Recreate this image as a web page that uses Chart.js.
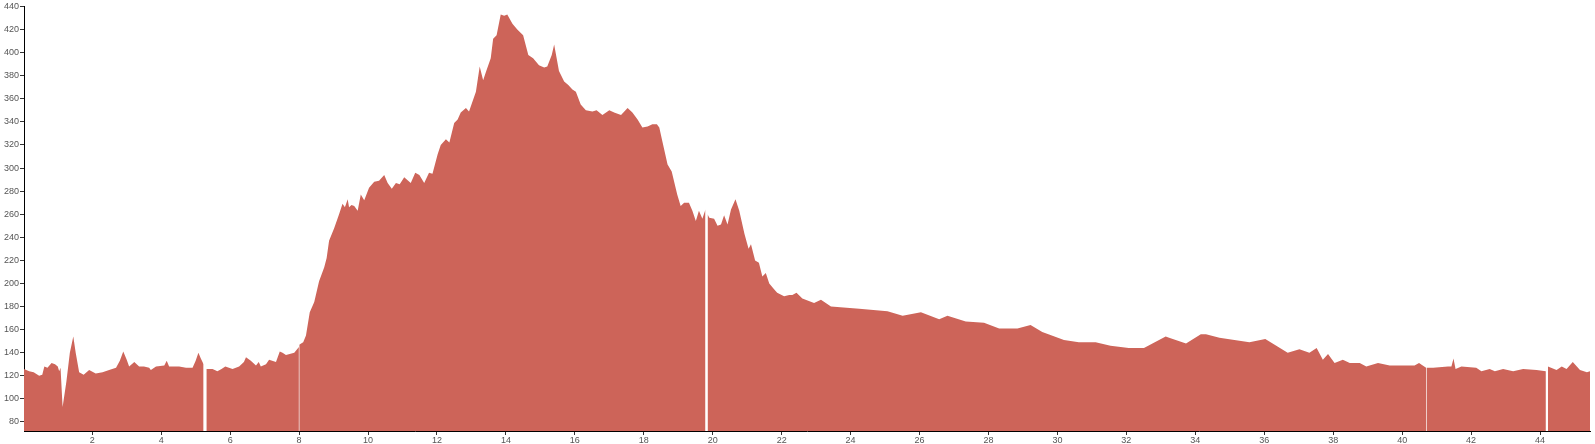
<!DOCTYPE html>
<html>
<head>
<meta charset="utf-8">
<title>Elevation profile</title>
<script src="https://cdn.jsdelivr.net/npm/chart.js@4"></script>
<style>
    html, body { margin: 0; padding: 0; background: #fff; }
    #chart-wrap { position: relative; width: 1595px; height: 444px; }
</style>
</head>
<body>
<div id="chart-wrap"><canvas id="profile-chart"></canvas></div>
<script>
// Distance along the route (km) - null elevation marks a break in the track
const distanceKm = [
    0.02, 0.17, 0.30, 0.46, 0.55, 0.61, 0.70, 0.82, 0.92, 1.00, 1.04, 1.08, 1.14, 1.25, 1.35, 1.45, 1.52, 1.62, 1.75, 1.91,
    2.10, 2.30, 2.49, 2.69, 2.80, 2.90, 3.00, 3.07, 3.22, 3.36, 3.50, 3.65, 3.70, 3.85, 4.09, 4.16, 4.23, 4.52, 4.72, 4.91,
    5.00, 5.08, 5.15, 5.23, 5.27, 5.31, 5.40, 5.49, 5.63, 5.75, 5.86, 6.07, 6.26, 6.40, 6.46, 6.60, 6.75, 6.83, 6.89, 7.04,
    7.13, 7.33, 7.44, 7.52, 7.62, 7.86, 7.995, 8.00, 8.005, 8.06, 8.12, 8.20, 8.31, 8.44, 8.58, 8.73, 8.80, 8.87, 9.02, 9.16,
    9.26, 9.33, 9.41, 9.45, 9.52, 9.60, 9.70, 9.79, 9.89, 10.03, 10.18, 10.32, 10.47, 10.57, 10.69, 10.81, 10.92, 11.05, 11.24, 11.37,
    11.49, 11.63, 11.77, 11.87, 12.02, 12.11, 12.26, 12.36, 12.50, 12.60, 12.69, 12.84, 12.93, 13.13, 13.24, 13.34, 13.43, 13.56, 13.63, 13.73,
    13.85, 13.95, 14.04, 14.19, 14.33, 14.50, 14.65, 14.79, 14.96, 15.11, 15.20, 15.33, 15.40, 15.54, 15.69, 15.81, 15.93, 16.03, 16.17, 16.32,
    16.51, 16.63, 16.80, 17.00, 17.14, 17.34, 17.53, 17.67, 17.82, 17.96, 18.11, 18.25, 18.38, 18.45, 18.54, 18.69, 18.81, 18.97, 19.07, 19.17,
    19.31, 19.41, 19.51, 19.60, 19.70, 19.79, 19.82, 19.85, 19.90, 20.04, 20.14, 20.24, 20.33, 20.43, 20.53, 20.66, 20.77, 20.92, 21.04, 21.11,
    21.23, 21.34, 21.44, 21.54, 21.64, 21.78, 21.87, 22.07, 22.22, 22.31, 22.43, 22.60, 22.94, 23.14, 23.43, 24.25, 25.07, 25.51, 26.04, 26.57,
    26.81, 27.34, 27.87, 28.31, 28.84, 29.22, 29.56, 30.19, 30.62, 31.11, 31.54, 32.07, 32.51, 33.14, 33.24, 33.73, 34.16, 34.31, 34.70, 35.57,
    36.03, 36.68, 37.02, 37.31, 37.52, 37.70, 37.85, 38.04, 38.28, 38.48, 38.77, 38.96, 39.30, 39.64, 40.03, 40.36, 40.49, 40.695, 40.70, 40.705,
    40.90, 41.33, 41.43, 41.49, 41.55, 41.72, 42.15, 42.30, 42.54, 42.69, 42.93, 43.22, 43.51, 43.90, 44.17, 44.20, 44.23, 44.48, 44.63, 44.77,
    44.95, 45.16, 45.36, 45.45
];

// Elevation (m)
const elevationM = [
    126, 124, 123, 120, 121, 128, 127, 131, 130, 128, 124, 127, 93, 115, 140, 154, 140, 123, 121, 125,
    122, 123, 125, 127, 133, 141, 134, 128, 132, 128, 128, 127, 125, 128, 129, 133, 128, 128, 127, 127,
    133, 140, 135, 130, null, 126, 126, 126, 124, 126, 128, 126, 128, 132, 136, 133, 129, 132, 128, 130,
    134, 132, 141, 140, 138, 140, 145, null, 147, 148, 149, 155, 175, 184, 202, 214, 222, 237, 248, 260,
    269, 266, 273, 266, 268, 267, 263, 277, 272, 283, 288, 289, 294, 287, 282, 287, 286, 292, 287, 296,
    294, 287, 296, 295, 312, 320, 325, 322, 339, 342, 348, 352, 349, 366, 388, 376, 384, 395, 412, 415,
    433, 432, 433, 425, 420, 415, 398, 395, 389, 387, 388, 398, 407, 384, 375, 372, 368, 366, 355, 350,
    349, 350, 346, 350, 348, 346, 352, 348, 342, 335, 336, 338, 338, 335, 323, 303, 297, 277, 267, 270,
    270, 263, 254, 263, 256, 264, null, 260, 257, 256, 250, 251, 259, 251, 264, 273, 263, 243, 230, 234,
    220, 218, 206, 209, 200, 195, 192, 189, 190, 190, 192, 187, 183, 186, 180, 178, 176, 172, 175, 169,
    172, 167, 166, 161, 161, 164, 158, 151, 149, 149, 146, 144, 144, 154, 153, 148, 156, 156, 153, 149,
    152, 140, 143, 140, 144, 134, 139, 131, 134, 131, 131, 128, 131, 129, 129, 129, 131, 127, null, 127,
    127, 128, 128, 135, 126, 128, 127, 124, 126, 124, 126, 124, 126, 125, 124, null, 128, 125, 128, 126,
    132, 125, 123, 124
];

// Axis ticks
const xTickValues = [2, 4, 6, 8, 10, 12, 14, 16, 18, 20, 22, 24, 26, 28, 30, 32, 34, 36, 38, 40, 42, 44];
const yTickValues = [80, 100, 120, 140, 160, 180, 200, 220, 240, 260, 280, 300, 320, 340, 360, 380, 400, 420, 440];

const Profile = (function() {

    const AREA_COLOR = '#cd6459';
    const TEXT_COLOR = '#555';
    const FONT = { family: '"Liberation Sans", Arial, sans-serif', size: 9 };

    /**
     * Build {x, y} points for the linear x scale
     */
    function buildPoints() {
        return distanceKm.map((d, i) => ({ x: d, y: elevationM[i] }));
    }

    function init() {
        const canvas = document.getElementById('profile-chart');
        if (!canvas || !window.Chart) return;

        new Chart(canvas.getContext('2d'), {
            type: 'line',
            data: {
                datasets: [{
                    data: buildPoints(),
                    backgroundColor: AREA_COLOR,
                    borderColor: AREA_COLOR,
                    borderWidth: 0,
                    pointRadius: 0,
                    tension: 0,
                    fill: 'start',
                    spanGaps: false
                }]
            },
            options: {
                responsive: true,
                maintainAspectRatio: false,
                animation: false,
                layout: { padding: { top: 5, right: 5, left: 0, bottom: 0 } },
                plugins: {
                    legend: { display: false },
                    tooltip: { enabled: false }
                },
                scales: {
                    x: {
                        type: 'linear',
                        min: distanceKm[0],
                        max: distanceKm[distanceKm.length - 1],
                        afterBuildTicks: scale => {
                            scale.ticks = xTickValues.map(v => ({ value: v }));
                        },
                        afterFit: scale => { scale.height = 13; },
                        border: { display: true, color: '#000', width: 1 },
                        grid: {
                            drawOnChartArea: false,
                            drawTicks: true,
                            tickLength: 4,
                            tickColor: '#333'
                        },
                        ticks: {
                            color: TEXT_COLOR,
                            font: FONT,
                            padding: 0,
                            maxRotation: 0,
                            autoSkip: false
                        }
                    },
                    y: {
                        min: 72.2,
                        max: 440,
                        afterBuildTicks: scale => {
                            scale.ticks = yTickValues.map(v => ({ value: v }));
                        },
                        afterFit: scale => { scale.width = 24; },
                        border: { display: true, color: '#000', width: 1 },
                        grid: {
                            drawOnChartArea: false,
                            drawTicks: true,
                            tickLength: 4,
                            tickColor: '#333'
                        },
                        ticks: {
                            color: TEXT_COLOR,
                            font: FONT,
                            padding: 1,
                            autoSkip: false
                        }
                    }
                }
            }
        });
    }

    return { init: init };
})();

document.addEventListener('DOMContentLoaded', function() {
    Profile.init();
});
</script>
</body>
</html>
